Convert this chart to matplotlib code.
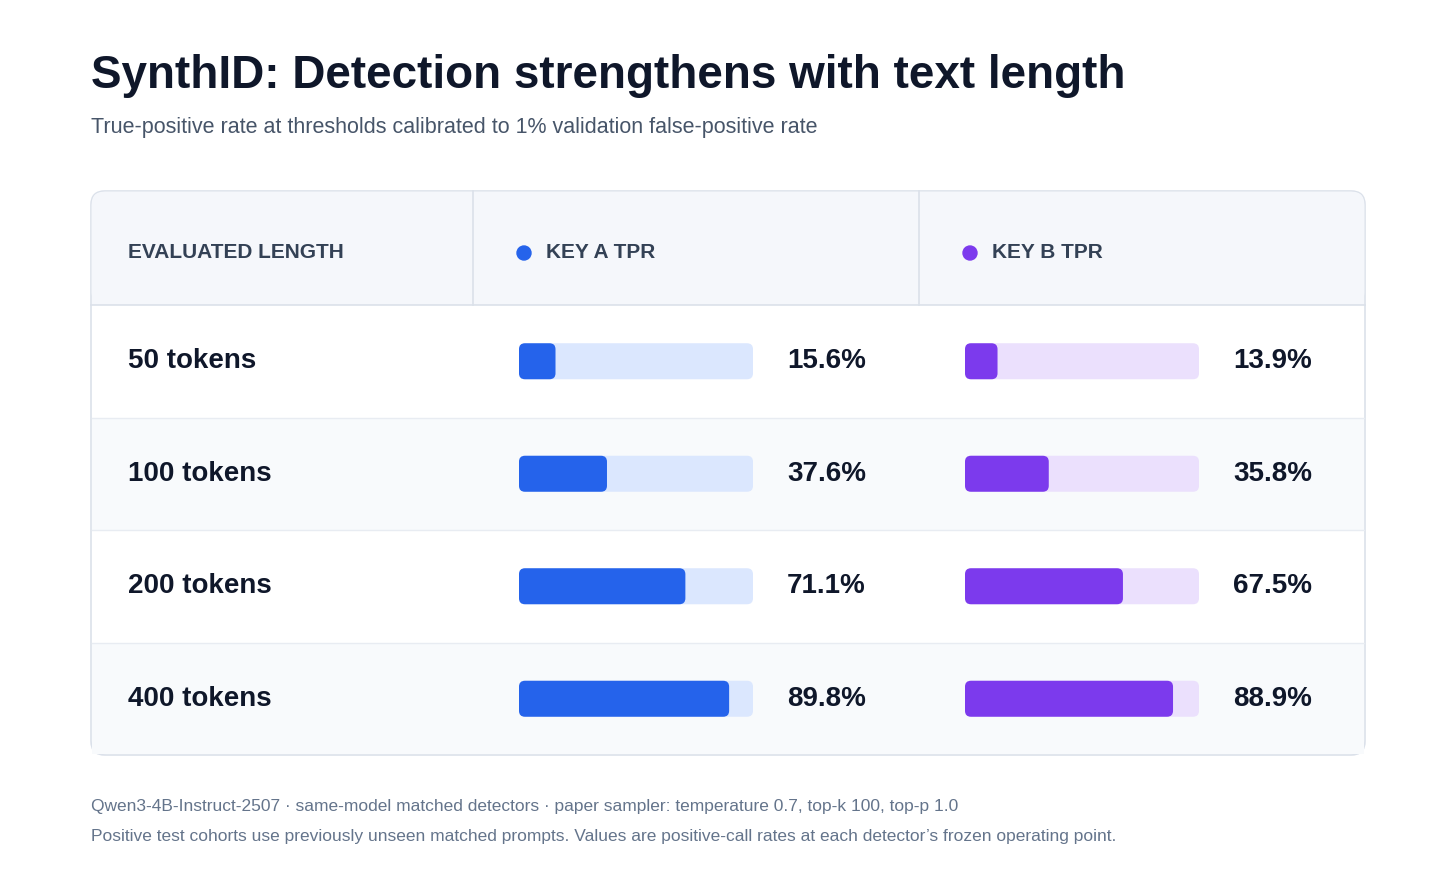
import matplotlib.pyplot as plt
from matplotlib.patches import FancyBboxPatch, Rectangle, Circle

plt.rcParams['font.family'] = ['Liberation Sans', 'DejaVu Sans']

lengths = ['50 tokens', '100 tokens', '200 tokens', '400 tokens']
key_a = [15.6, 37.6, 71.1, 89.8]
key_b = [13.9, 35.8, 67.5, 88.9]

fig = plt.figure(figsize=(14.56, 8.92), dpi=100)
ax = fig.add_axes([0, 0, 1, 1])
ax.set_xlim(0, 1456)
ax.set_ylim(892, 0)
ax.axis('off')

ax.text(91, 76, 'SynthID: Detection strengthens with text length', fontsize=33,
        fontweight='bold', color='#0f172a', va='center')
ax.text(91, 127, 'True-positive rate at thresholds calibrated to 1% validation false-positive rate',
        fontsize=15.5, color='#475569', va='center')

# table frame
ax.add_patch(FancyBboxPatch((91, 191), 1274, 564, boxstyle='round,pad=0,rounding_size=14',
                            facecolor='white', edgecolor='#dbe1ea', lw=1.2, zorder=1))
ax.add_patch(FancyBboxPatch((91.6, 191.6), 1272.8, 113.4, boxstyle='round,pad=0,rounding_size=13',
                            facecolor='#f5f7fb', edgecolor='none', zorder=2))
ax.add_patch(Rectangle((91.6, 260), 1272.8, 45, facecolor='#f5f7fb', edgecolor='none', zorder=2))
ax.plot([91, 1365], [305, 305], color='#dbe1ea', lw=1.2, zorder=3)
for x in (473, 919):
    ax.plot([x, x], [191, 305], color='#dbe1ea', lw=1.2, zorder=3)

hdr = dict(fontsize=15, fontweight='bold', color='#334155', va='center', zorder=4)
ax.text(128, 253, 'EVALUATED LENGTH', **hdr)
ax.add_patch(Circle((524, 253), 7, color='#2563eb', zorder=4))
ax.text(546, 253, 'KEY A TPR', **hdr)
ax.add_patch(Circle((970, 253), 7, color='#7c3aed', zorder=4))
ax.text(992, 253, 'KEY B TPR', **hdr)

row_h = 112.5
track_w = 234
for i, (lab, a, b) in enumerate(zip(lengths, key_a, key_b)):
    top = 305 + i * row_h
    cy = top + row_h / 2
    if i % 2 == 1:
        bottom_pad = 1 if i == len(lengths) - 1 else 0
        ax.add_patch(Rectangle((92, top), 1272, row_h - bottom_pad, facecolor='#f8fafc',
                               edgecolor='none', zorder=2))
    if i > 0:
        ax.plot([92, 1364], [top, top], color='#e8ecf2', lw=1, zorder=3)
    ax.text(128, cy, lab, fontsize=20, fontweight='bold', color='#0f172a', va='center', zorder=4)
    for x0, v, c, bg in ((519, a, '#2563eb', '#dbe7fe'), (965, b, '#7c3aed', '#ebe0fd')):
        ax.add_patch(FancyBboxPatch((x0, cy - 18), track_w, 36, boxstyle='round,pad=0,rounding_size=6',
                                    facecolor=bg, edgecolor='none', zorder=4))
        ax.add_patch(FancyBboxPatch((x0, cy - 18), track_w * v / 100, 36,
                                    boxstyle='round,pad=0,rounding_size=6',
                                    facecolor=c, edgecolor='none', zorder=5))
        ax.text(x0 + 268, cy, f'{v:.1f}%', fontsize=20, fontweight='bold', color='#0f172a',
                va='center', zorder=4)

foot = dict(fontsize=12.5, color='#64748b', va='center')
ax.text(91, 806, 'Qwen3-4B-Instruct-2507 · same-model matched detectors · paper sampler: '
        'temperature 0.7, top-k 100, top-p 1.0', **foot)
ax.text(91, 837, 'Positive test cohorts use previously unseen matched prompts. Values are '
        'positive-call rates at each detector\u2019s frozen operating point.', **foot)

fig.savefig('out.png', dpi=100, facecolor='white')
